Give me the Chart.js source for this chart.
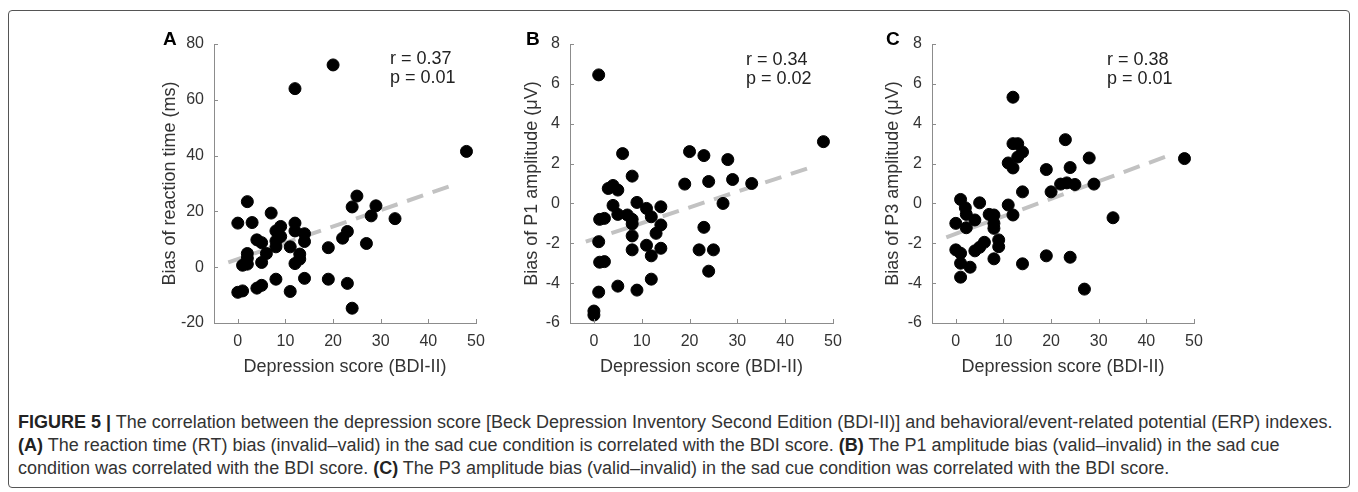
<!DOCTYPE html>
<html>
<head>
<meta charset="utf-8">
<script src="https://cdn.jsdelivr.net/npm/chart.js@4.4.1/dist/chart.umd.min.js"></script>
<style>
  body { margin: 0; background: #fff; font-family: "Liberation Sans", Arial, sans-serif; }
  #wrap { position: relative; width: 1358px; height: 492px; }
  #frame { position: absolute; left: 8px; top: 10px; width: 1340px; height: 476px; border: 1px solid #555; border-radius: 4px; }
  canvas { position: absolute; }
  .letter { position: absolute; font-weight: bold; font-size: 19px; color: #000; line-height: 19px; }
  .stat { position: absolute; font-size: 18px; color: #222; line-height: 19px; }
  #caption { position: absolute; left: 18px; top: 411px; font-size: 18px; line-height: 23px; color: #333; white-space: nowrap; }
  #caption b { color: #222; }
</style>
</head>
<body>
<div id="wrap">
  <div id="frame"></div>
  <canvas id="chartA" width="345" height="362" style="left:155px; top:20px;"></canvas>
  <canvas id="chartB" width="340" height="362" style="left:517px; top:20px;"></canvas>
  <canvas id="chartC" width="340" height="362" style="left:878px; top:20px;"></canvas>
  <div class="letter" style="left:163px; top:29px;">A</div>
  <div class="letter" style="left:526px; top:29px;">B</div>
  <div class="letter" style="left:886px; top:29px;">C</div>
  <div class="stat" style="left:390px; top:49px;">r = 0.37<br>p = 0.01</div>
  <div class="stat" style="left:746px; top:50px;">r = 0.34<br>p = 0.02</div>
  <div class="stat" style="left:1107px; top:50px;">r = 0.38<br>p = 0.01</div>
  <div id="caption">
    <b>FIGURE 5 |</b> The correlation between the depression score [Beck Depression Inventory Second Edition (BDI-II)] and behavioral/event-related potential (ERP) indexes.<br>
    <b>(A)</b> The reaction time (RT) bias (invalid–valid) in the sad cue condition is correlated with the BDI score. <b>(B)</b> The P1 amplitude bias (valid–invalid) in the sad cue<br>
    condition was correlated with the BDI score. <b>(C)</b> The P3 amplitude bias (valid–invalid) in the sad cue condition was correlated with the BDI score.
  </div>
</div>

<script>
// tick values
const xTicks = [0, 10, 20, 30, 40, 50];
const yTicksRT = [-20, 0, 20, 40, 60, 80];
const yTicksAmp = [-6, -4, -2, 0, 2, 4, 6, 8];

// Panel A : reaction time bias
const bdiA = [0, 2, 3, 7, 12, 9, 8, 12, 14, 14, 9, 8, 4, 5, 8, 11, 6, 2, 2, 1, 2, 5, 13, 13, 12, 19, 22, 23, 27, 25, 24, 29, 28, 33, 12, 20, 48, 0, 1, 4, 5, 8, 11, 14, 19, 23, 24];
const rtBias = [15.8, 23.5, 16, 19.4, 15.8, 14.6, 13, 13, 12, 9.2, 11, 9.4, 9.8, 8.8, 7.3, 7.3, 4.9, 4.9, 3.2, 0.7, 1.1, 1.7, 4.7, 2.9, 1.3, 7, 10.4, 12.8, 8.5, 25.5, 21.6, 22, 18.4, 17.4, 64, 72.5, 41.5, -9, -8.5, -7.5, -6.5, -4.3, -8.7, -4, -4.3, -5.8, -14.7];
const fitXA = [-2, 46.2];
const fitYA = [1.7, 30];

// Panel B : P1 amplitude bias
const bdiB = [1, 48, 6, 20, 23, 28, 8, 19, 24, 29, 33, 3, 4, 5, 4, 9, 11, 14, 27, 5, 7, 8, 12, 1.2, 2.2, 8, 14, 13, 23, 8, 1, 11, 8, 14, 12, 22, 25, 1.2, 2.2, 24, 12, 1, 5, 9, 0, 0];
const p1Bias = [6.45, 3.1, 2.5, 2.6, 2.4, 2.2, 1.37, 0.97, 1.1, 1.2, 1, 0.75, 0.9, 0.67, -0.1, 0.05, -0.25, -0.17, 0, -0.55, -0.58, -0.8, -0.67, -0.8, -0.75, -1.03, -1.08, -1.5, -1.2, -1.63, -1.92, -2.1, -2.33, -2.25, -2.63, -2.33, -2.33, -2.95, -2.92, -3.4, -3.8, -4.45, -4.15, -4.35, -5.4, -5.6];
const fitXB = [-1.7, 46.2];
const fitYB = [-1.92, 1.88];

// Panel C : P3 amplitude bias
const bdiC = [12, 48, 23, 12, 13, 14, 13, 11, 12, 19, 24, 28, 22, 23.3, 25, 29, 14, 20, 1, 5, 11, 2, 2.2, 7, 8, 12, 33, 4, 0, 8, 2.2, 8, 9, 6, 5, 9, 4, 0, 1, 19, 24, 8, 1, 14, 3, 1, 27];
const p3Bias = [5.33, 2.25, 3.2, 3, 3, 2.58, 2.33, 2.03, 1.78, 1.7, 1.8, 2.28, 0.97, 1.03, 0.95, 0.97, 0.58, 0.58, 0.2, 0.03, -0.08, -0.22, -0.55, -0.55, -0.58, -0.58, -0.72, -0.83, -1, -1, -1.22, -1.25, -1.83, -1.95, -2.2, -2.17, -2.38, -2.33, -2.5, -2.63, -2.7, -2.78, -3, -3.03, -3.2, -3.7, -4.3];
const fitXC = [-2, 45.8];
const fitYC = [-1.7, 2.5];

const FONT = 'Liberation Sans, Arial, sans-serif';
const AXIS_GREY = '#8c8c8c';

// little inward tick marks, like the original figure
const innerTicks = {
    id: 'innerTicks',
    afterDraw(chart) {
        const ctx = chart.ctx;
        const area = chart.chartArea;
        const xs = chart.scales.x, ys = chart.scales.y;
        ctx.save();
        ctx.strokeStyle = AXIS_GREY;
        ctx.lineWidth = 1;
        ctx.beginPath();
        xs.ticks.forEach(t => {
            const px = Math.round(xs.getPixelForValue(t.value)) + 0.5;
            ctx.moveTo(px, area.bottom);
            ctx.lineTo(px, area.bottom - 4);
        });
        ys.ticks.forEach(t => {
            const py = Math.round(ys.getPixelForValue(t.value)) + 0.5;
            ctx.moveTo(area.left, py);
            ctx.lineTo(area.left + 4, py);
        });
        ctx.stroke();
        ctx.restore();
    }
};

function makePanel(id, xs, ys, fitX, fitY, yTicks, yMin, yMax, yTitle, yWidth) {
    const points = xs.map((x, i) => ({ x: x, y: ys[i] }));
    const fit = fitX.map((x, i) => ({ x: x, y: fitY[i] }));

    new Chart(document.getElementById(id), {
        type: 'scatter',
        data: {
            datasets: [{
                data: points,
                backgroundColor: '#000',
                borderColor: '#000',
                pointRadius: 6,
                pointHoverRadius: 6,
                order: 0
            }, {
                type: 'line',
                data: fit,
                showLine: true,
                borderColor: '#c2c2c2',
                borderWidth: 4,
                borderDash: [17, 10],
                pointRadius: 0,
                fill: false,
                order: 1
            }]
        },
        options: {
            responsive: false,
            animation: false,
            events: [],
            layout: { padding: { top: 24, right: 24, left: 0, bottom: 0 } },
            plugins: {
                legend: { display: false },
                tooltip: { enabled: false }
            },
            scales: {
                x: {
                    type: 'linear',
                    min: -5,
                    max: 50,
                    afterBuildTicks: s => { s.ticks = xTicks.map(v => ({ value: v })); },
                    afterFit: s => { s.height = 59; },
                    grid: { drawOnChartArea: false, drawTicks: false },
                    border: { color: AXIS_GREY, width: 1 },
                    ticks: { color: '#333', padding: 9, maxRotation: 0, font: { size: 16, family: FONT } },
                    title: { display: true, text: 'Depression score (BDI-II)', color: '#333', font: { size: 18, family: FONT } }
                },
                y: {
                    min: yMin,
                    max: yMax,
                    afterBuildTicks: s => { s.ticks = yTicks.map(v => ({ value: v })); },
                    afterFit: s => { s.width = yWidth; },
                    grid: { drawOnChartArea: false, drawTicks: false },
                    border: { color: AXIS_GREY, width: 1 },
                    ticks: { color: '#333', padding: 10, font: { size: 16, family: FONT } },
                    title: { display: true, text: yTitle, color: '#333', font: { size: 18, family: FONT } }
                }
            }
        },
        plugins: [innerTicks]
    });
}

makePanel('chartA', bdiA, rtBias, fitXA, fitYA, yTicksRT, -20, 80, 'Bias of reaction time (ms)', 59);
makePanel('chartB', bdiB, p1Bias, fitXB, fitYB, yTicksAmp, -6, 8, 'Bias of P1 amplitude (μV)', 53);
makePanel('chartC', bdiC, p3Bias, fitXC, fitYC, yTicksAmp, -6, 8, 'Bias of P3 amplitude (μV)', 54);
</script>
</body>
</html>
